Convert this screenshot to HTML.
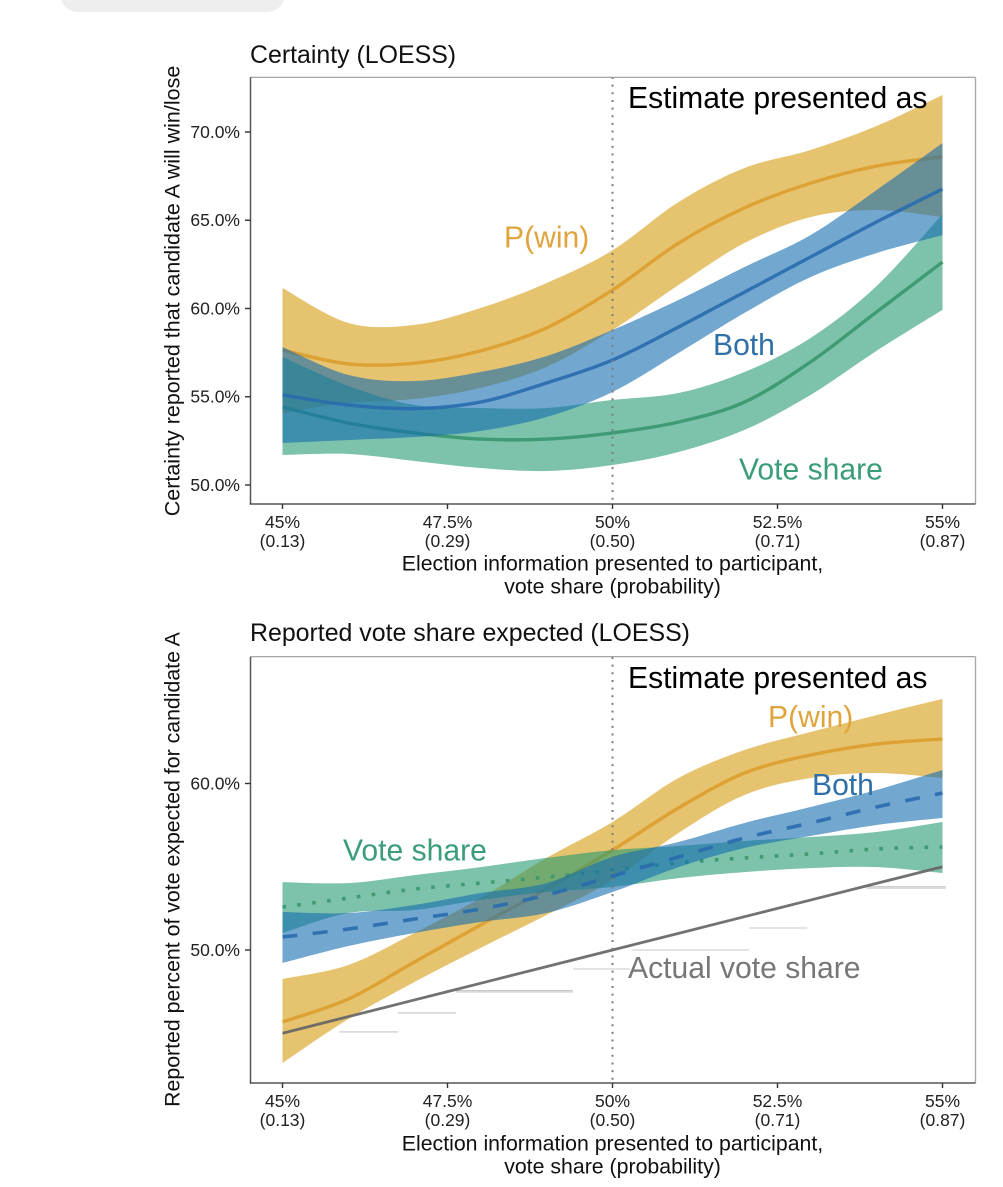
<!DOCTYPE html>
<html lang="en">
<head>
<meta charset="utf-8">
<title>Certainty and reported vote share (LOESS)</title>
<style>
  html, body { margin: 0; padding: 0; background: #ffffff; }
  body { width: 1003px; height: 1187px; overflow: hidden; position: relative; }
  #top-pill { position: absolute; left: 60px; top: -20px; width: 225px; height: 32px; background: #eeeeef; border-radius: 0 0 18px 18px; }
  svg { position: absolute; left: 0; top: 0; }
  text { font-family: "Liberation Sans", Arial, sans-serif; }
</style>
</head>
<body>
<div id="top-pill"></div>
<svg id="chart" width="1003" height="1187" viewBox="0 0 1003 1187" xmlns="http://www.w3.org/2000/svg">
  <g id="panel-1"></g>
  <g id="panel-2"></g>

  <text x="250" y="63" font-size="24.9" fill="#111">Certainty (LOESS)</text>
  <text transform="translate(179.5,291) rotate(-90)" text-anchor="middle" font-size="21.5" fill="#111">Certainty reported that candidate A will win/lose</text>
  <text x="612.5" y="570.5" text-anchor="middle" font-size="21.3" fill="#111">Election information presented to participant,</text>
  <text x="612.5" y="593.5" text-anchor="middle" font-size="21.3" fill="#111">vote share (probability)</text>
  <text x="628" y="108" font-size="30.1" fill="#000">Estimate presented as</text>
  <text x="504" y="247.5" font-size="30.1" fill="#dfa43c">P(win)</text>
  <text x="713" y="355" font-size="30.1" fill="#2f70a8">Both</text>
  <text x="739" y="479.5" font-size="30.1" fill="#3b9c78">Vote share</text>

  <text x="250" y="641" font-size="24.9" fill="#111">Reported vote share expected (LOESS)</text>
  <text transform="translate(179.5,869.5) rotate(-90)" text-anchor="middle" font-size="21.3" fill="#111">Reported percent of vote expected for candidate A</text>
  <text x="612.5" y="1150.5" text-anchor="middle" font-size="21.3" fill="#111">Election information presented to participant,</text>
  <text x="612.5" y="1173.5" text-anchor="middle" font-size="21.3" fill="#111">vote share (probability)</text>
  <text x="628" y="688" font-size="30.1" fill="#000">Estimate presented as</text>
  <text x="768" y="727" font-size="30.1" fill="#dfa43c">P(win)</text>
  <text x="812" y="795" font-size="30.1" fill="#2f70a8">Both</text>
  <text x="343" y="860.5" font-size="30.1" fill="#3b9c78">Vote share</text>
  <text x="628" y="978" font-size="30.1" fill="#777">Actual vote share</text>
</svg>

<script>
const xValues = [45, 46, 47, 48, 49, 50, 51, 52, 53, 54, 55];
const xTickValues = [45, 47.5, 50, 52.5, 55];
const xTickLabels = ["45%", "47.5%", "50%", "52.5%", "55%"];
const xTickProbabilities = ["(0.13)", "(0.29)", "(0.50)", "(0.71)", "(0.87)"];

const certaintyTicks = [50, 55, 60, 65, 70];
const certaintyTickLabels = ["50.0%", "55.0%", "60.0%", "65.0%", "70.0%"];
const voteShareTicks = [50, 60];
const voteShareTickLabels = ["50.0%", "60.0%"];

const certaintyWinMid = [57.65, 56.86, 56.9, 57.6, 58.9, 61.05, 63.7, 65.7, 67.1, 68.07, 68.6];
const certaintyWinHigh = [61.16, 59.18, 59.07, 60.03, 61.44, 63.3, 66.03, 67.96, 68.98, 70.34, 72.1];
const certaintyWinLow = [54.08, 54.65, 54.87, 55.5, 56.69, 58.78, 61.33, 63.71, 65.18, 65.58, 65.18];

const certaintyBothMid = [55.1, 54.53, 54.33, 54.7, 55.78, 57.08, 58.95, 60.93, 62.92, 64.9, 66.77];
const certaintyBothHigh = [57.82, 56.23, 55.89, 56.4, 57.3, 58.78, 60.48, 62.35, 64.16, 66.71, 69.38];
const certaintyBothLow = [52.38, 52.55, 52.72, 53.06, 53.85, 55.27, 57.48, 59.75, 61.78, 63.14, 64.16];

const certaintyShareMid = [54.42, 53.51, 52.95, 52.6, 52.6, 52.95, 53.57, 54.7, 56.97, 59.8, 62.63];
const certaintyShareHigh = [57.25, 55.61, 54.53, 54.36, 54.36, 54.82, 55.21, 56.4, 58.33, 61.27, 65.35];
const certaintyShareLow = [51.7, 51.76, 51.36, 50.96, 50.79, 51.13, 51.87, 53.12, 55.1, 57.6, 59.92];

const reportedWinMid = [45.68, 47.06, 49.28, 51.5, 53.66, 56.0, 58.53, 60.63, 61.71, 62.37, 62.67];
const reportedWinHigh = [48.26, 49.1, 51.02, 53.12, 55.53, 57.69, 60.33, 62.01, 63.09, 64.11, 65.08];
const reportedWinLow = [43.21, 45.86, 48.08, 50.12, 52.1, 54.2, 57.03, 59.31, 60.33, 60.63, 60.33];

const reportedBothMid = [50.78, 51.26, 51.86, 52.46, 53.3, 54.44, 55.59, 56.73, 57.63, 58.59, 59.43];
const reportedBothHigh = [52.28, 52.22, 52.7, 53.42, 54.02, 55.59, 56.49, 57.63, 58.59, 59.61, 60.81];
const reportedBothLow = [49.22, 50.24, 51.02, 51.68, 52.22, 53.48, 54.98, 56.13, 56.85, 57.51, 57.93];

const reportedShareMid = [52.58, 53.12, 53.66, 54.02, 54.38, 54.8, 55.23, 55.53, 55.77, 56.07, 56.19];
const reportedShareHigh = [54.08, 54.02, 54.5, 54.98, 55.53, 56.0, 56.25, 56.55, 56.79, 57.09, 57.69];
const reportedShareLow = [51.02, 52.22, 52.4, 53.0, 53.48, 53.78, 54.32, 54.68, 54.92, 54.98, 54.62];

const actualShare = [45, 46, 47, 48, 49, 50, 51, 52, 53, 54, 55];

const stepStarts = [45.86, 46.75, 47.63, 47.63, 49.4, 50.3, 52.07, 53.85, 53.85];
const stepEnds = [46.75, 47.63, 49.4, 49.4, 50.27, 52.07, 52.95, 55.05, 55.05];
const stepValues = [45.08, 46.22, 47.56, 47.48, 48.86, 50, 51.32, 53.8, 53.72];

const NS = "http://www.w3.org/2000/svg";
const GOLD_BAND = "#d59b0f", BLUE_BAND = "#146cb1", GREEN_BAND = "#269971";
const GOLD_LINE = "#dc9f2e", BLUE_LINE = "#2a6cae", GREEN_LINE = "#38986f";

function xScale(v) { return 282.5 + (v - 45) * 66; }
function certaintyY(v) { return 485 - (v - 50) * 17.65; }
function reportedY(v) { return 950 - (v - 50) * 16.65; }

function add(parent, tag, attrs) {
  const el = document.createElementNS(NS, tag);
  for (const k in attrs) el.setAttribute(k, attrs[k]);
  parent.appendChild(el);
  return el;
}

/* Catmull-Rom spline through the points, as cubic Bezier segments */
function spline(pts, move) {
  let d = (move ? "M" : "L") + pts[0][0].toFixed(2) + " " + pts[0][1].toFixed(2);
  for (let i = 0; i < pts.length - 1; i++) {
    const p0 = pts[Math.max(i - 1, 0)], p1 = pts[i], p2 = pts[i + 1], p3 = pts[Math.min(i + 2, pts.length - 1)];
    const c1x = p1[0] + (p2[0] - p0[0]) / 6, c1y = p1[1] + (p2[1] - p0[1]) / 6;
    const c2x = p2[0] - (p3[0] - p1[0]) / 6, c2y = p2[1] - (p3[1] - p1[1]) / 6;
    d += "C" + c1x.toFixed(2) + " " + c1y.toFixed(2) + " " + c2x.toFixed(2) + " " + c2y.toFixed(2) + " " + p2[0].toFixed(2) + " " + p2[1].toFixed(2);
  }
  return d;
}

function points(values, yFn) { return values.map((v, i) => [xScale(xValues[i]), yFn(v)]); }

function drawBand(g, high, low, yFn, color, name) {
  const d = spline(points(high, yFn), true) + spline(points(low, yFn).reverse(), false) + "Z";
  const el = add(g, "path", { d: d, fill: color, "fill-opacity": 0.6, stroke: "none" });
  
  
}

function drawLine(g, values, yFn, color, width, dash, name) {
  const el = add(g, "path", { d: spline(points(values, yFn), true), fill: "none", stroke: color, "stroke-width": width, "stroke-opacity": 0.92 });
  if (dash) el.setAttribute("stroke-dasharray", dash);
  
  
}

function drawFrame(g, top, bottom, yTicks, yLabels, yFn, labelBase, prefix) {
  const left = 250.5, right = 975.5;

  const topEdge = add(g, "line", { x1: left, x2: right, y1: top, y2: top, stroke: "#9a9a9a", "stroke-width": 1.1 });
  
  

  const rightEdge = add(g, "line", { x1: right, x2: right, y1: top, y2: bottom, stroke: "#a8a8a8", "stroke-width": 1.4 });
  
  

  const leftAxis = add(g, "line", { x1: left, x2: left, y1: top, y2: bottom + 0.6, stroke: "#555", "stroke-width": 1.5 });
  
  

  const bottomAxis = add(g, "line", { x1: left - 0.7, x2: right, y1: bottom, y2: bottom, stroke: "#333", "stroke-width": 1.3 });
  
  

  yTicks.forEach((v, i) => {
    const y = yFn(v);
    const tick = add(g, "line", { x1: left - 5.5, x2: left, y1: y, y2: y, stroke: "#333", "stroke-width": 1.4 });
    
    
    const label = add(g, "text", { x: left - 10.5, y: y + 5.8, "text-anchor": "end", "font-size": 17.5, fill: "#222" });
    label.textContent = yLabels[i];
    
    
  });

  xTickValues.forEach((v, i) => {
    const x = xScale(v);
    const tick = add(g, "line", { x1: x, x2: x, y1: bottom, y2: bottom + 5, stroke: "#333", "stroke-width": 1.4 });
    
    
    const pct = add(g, "text", { x: x, y: labelBase, "text-anchor": "middle", "font-size": 17.5, fill: "#222" });
    pct.textContent = xTickLabels[i];
    
    
    const prob = add(g, "text", { x: x, y: labelBase + 19, "text-anchor": "middle", "font-size": 17.5, fill: "#222" });
    prob.textContent = xTickProbabilities[i];
    
    
  });
}

function drawReference(g, top, bottom, prefix) {
  const x = xScale(50);
  const ref = add(g, "line", { x1: x, x2: x, y1: top, y2: bottom, stroke: "#7c7c7c", "stroke-width": 2, "stroke-dasharray": "2 5.65" });
  
  
}

/* Panel 1: certainty. Each band is followed by its line, so later bands veil earlier lines. */
const p1 = document.getElementById("panel-1");
drawBand(p1, certaintyWinHigh, certaintyWinLow, certaintyY, GOLD_BAND, "certainty-pwin-band");
drawLine(p1, certaintyWinMid, certaintyY, GOLD_LINE, 3.4, null, "certainty-pwin-line");
drawBand(p1, certaintyShareHigh, certaintyShareLow, certaintyY, GREEN_BAND, "certainty-vote-share-band");
drawLine(p1, certaintyShareMid, certaintyY, GREEN_LINE, 3.4, null, "certainty-vote-share-line");
drawBand(p1, certaintyBothHigh, certaintyBothLow, certaintyY, BLUE_BAND, "certainty-both-band");
drawLine(p1, certaintyBothMid, certaintyY, BLUE_LINE, 3.4, null, "certainty-both-line");
drawReference(p1, 77, 504, "certainty");
drawFrame(p1, 77.3, 504, certaintyTicks, certaintyTickLabels, certaintyY, 528, "certainty");

/* Panel 2: reported vote share */
const p2 = document.getElementById("panel-2");
stepValues.forEach((v, i) => {
  const s = add(p2, "line", { x1: xScale(stepStarts[i]), x2: xScale(stepEnds[i]), y1: reportedY(v), y2: reportedY(v), stroke: "#b5b5b5", "stroke-width": 0.8 });
  
  
});
drawBand(p2, reportedWinHigh, reportedWinLow, reportedY, GOLD_BAND, "vote-share-pwin-band");
drawLine(p2, reportedWinMid, reportedY, GOLD_LINE, 3.4, null, "vote-share-pwin-line");
drawBand(p2, reportedShareHigh, reportedShareLow, reportedY, GREEN_BAND, "vote-share-vote-share-band");
drawLine(p2, reportedShareMid, reportedY, GREEN_LINE, 3.6, "3.6 11.4", "vote-share-vote-share-line");
drawBand(p2, reportedBothHigh, reportedBothLow, reportedY, BLUE_BAND, "vote-share-both-band");
drawLine(p2, reportedBothMid, reportedY, BLUE_LINE, 3.6, "15 15.4", "vote-share-both-line");
drawLine(p2, actualShare, reportedY, "#666666", 2.8, null, "actual-vote-share-line");
drawReference(p2, 657, 1083, "vote-share");
drawFrame(p2, 656.7, 1083, voteShareTicks, voteShareTickLabels, reportedY, 1107, "vote-share");
</script>
</body>
</html>
